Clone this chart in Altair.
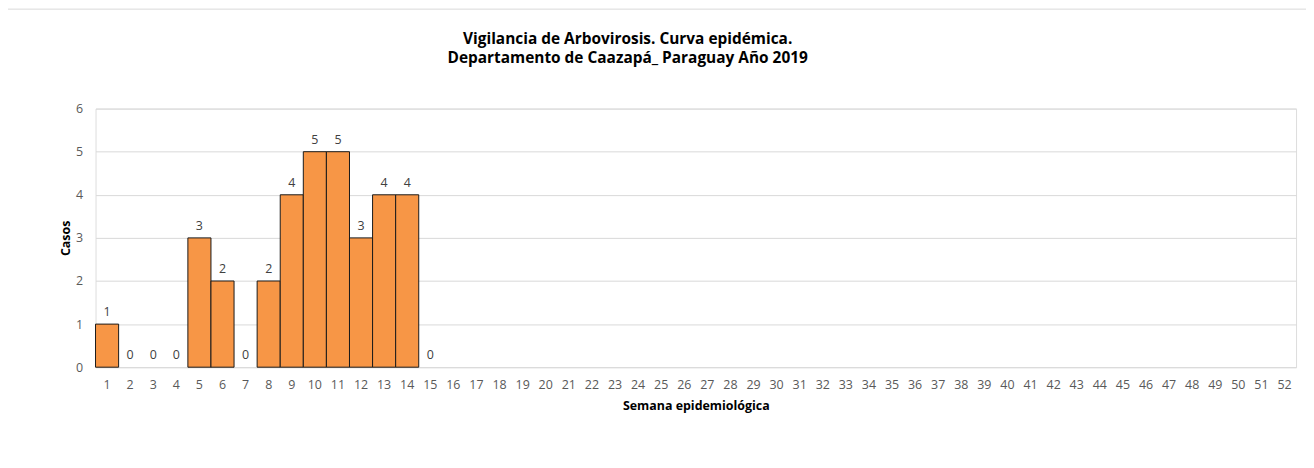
import altair as alt
import pandas as pd

weeks = [1, 2, 3, 4, 5, 6, 7, 8, 9, 10, 11, 12, 13, 14, 15, 16, 17, 18, 19, 20,
         21, 22, 23, 24, 25, 26, 27, 28, 29, 30, 31, 32, 33, 34, 35, 36, 37, 38,
         39, 40, 41, 42, 43, 44, 45, 46, 47, 48, 49, 50, 51, 52]
cases = [1, 0, 0, 0, 3, 2, 0, 2, 4, 5, 5, 3, 4, 4, 0] + [None] * 37

title_lines = ["Vigilancia de Arbovirosis. Curva epidémica.",
               "Departamento de Caazapá_ Paraguay Año 2019"]
x_title = "Semana epidemiológica"
y_title = "Casos"

df = pd.DataFrame({"Semana": weeks, "Casos": cases})
title_df = pd.DataFrame({"t": [0]})

FONT = "Open Sans"
W, H = 1207, 260

x_enc = alt.X("Semana:O", sort=weeks,
              scale=alt.Scale(domain=weeks, paddingInner=0, paddingOuter=0),
              axis=alt.Axis(title=x_title, labelAngle=0, labelFontSize=12.5,
                            labelColor="#595959", labelFont=FONT, labelPadding=11,
                            ticks=False, domain=False, titleFont=FONT,
                            titleFontSize=12.5, titleFontWeight="bold",
                            titleColor="#000000", titlePadding=9))
y_enc = alt.Y("Casos:Q", scale=alt.Scale(domain=[0, 6], nice=False),
              axis=alt.Axis(title=y_title, values=[0, 1, 2, 3, 4, 5, 6],
                            labelFontSize=12.5, labelColor="#595959",
                            labelFont=FONT, labelPadding=13, ticks=False,
                            domain=False, grid=True, gridColor="#D9D9D9",
                            gridWidth=1, titleFont=FONT, titleFontSize=12.5,
                            titleFontWeight="bold", titleColor="#000000",
                            titlePadding=3))

base = alt.Chart(df)

bars = base.transform_filter("datum.Casos > 0").mark_bar(
    color="#F79646", stroke="#1a1a1a", strokeWidth=1).encode(x=x_enc, y=y_enc)

labels = base.transform_filter("datum.Casos != null").mark_text(
    baseline="bottom", dy=-5, fontSize=12.5, font=FONT, color="#404040").encode(
    x=alt.X("Semana:O", sort=weeks), y=alt.Y("Casos:Q"), text="Casos:Q")

title_mark = alt.Chart(title_df).mark_text(
    font=FONT, fontSize=15.5, fontWeight="bold", color="#000000",
    align="center", baseline="middle", lineHeight=19).encode(
    x=alt.value(535), y=alt.value(-70), text=alt.value(title_lines))

border_left = alt.Chart(title_df).mark_rule(color="#D9D9D9", strokeWidth=1).encode(
    x=alt.value(-88.5), y=alt.value(-100), y2=alt.value(460))
border_top = alt.Chart(title_df).mark_rule(color="#D9D9D9", strokeWidth=1).encode(
    x=alt.value(-88.5), x2=alt.value(1300), y=alt.value(-100))

chart = alt.layer(bars, labels, title_mark, border_left, border_top).properties(
    width=W, height=H,
    autosize=alt.AutoSizeParams(type="none"),
    padding={"left": 88, "top": 100, "right": 10, "bottom": 60},
).configure_view(stroke=None).configure(background="white")

chart.save("out.html", embed_options={"renderer": "svg", "actions": False})
